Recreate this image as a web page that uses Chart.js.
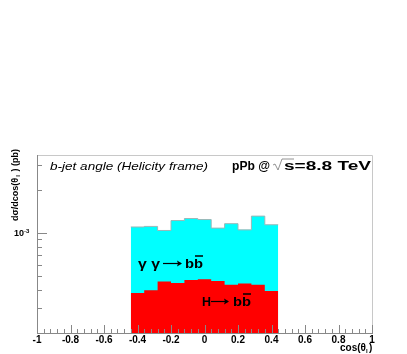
<!DOCTYPE html>
<html>
<head>
<meta charset="utf-8">
<script src="https://cdn.jsdelivr.net/npm/chart.js@4.4.0/dist/chart.umd.min.js"></script>
<style>
  html, body { margin: 0; padding: 0; background: #fff; }
  #wrap { width: 407px; height: 354px; }
</style>
</head>
<body>
<div id="wrap"><canvas id="chart" width="407" height="354"></canvas></div>
<script>
// lower bin edges of cos(theta_l), bin width 0.08
const binLow = [-0.44, -0.36, -0.28, -0.2, -0.12, -0.04, 0.04, 0.12, 0.2, 0.28, 0.36];
const binHigh = 0.44;

// gamma gamma -> bb (drawn as total, cyan) and H -> bb (red), in pb
const totalValues = [1.10e-3, 1.11e-3, 1.04e-3, 1.22e-3, 1.26e-3, 1.24e-3, 1.08e-3, 1.16e-3, 1.05e-3, 1.31e-3, 1.14e-3];
const higgsValues = [3.80e-4, 3.97e-4, 4.57e-4, 4.47e-4, 4.69e-4, 4.74e-4, 4.62e-4, 4.35e-4, 4.44e-4, 4.35e-4, 3.93e-4];

const xTickLabels = [-1, -0.8, -0.6, -0.4, -0.2, 0, 0.2, 0.4, 0.6, 0.8, 1];
const yMinorTicks = [2e-4, 3e-4, 4e-4, 5e-4, 6e-4, 7e-4, 8e-4, 9e-4, 2e-3, 3e-3];
const yMajorTicks = [1e-3];

const FONT = '"Liberation Sans", Arial, sans-serif';

/**
 * Turns bin contents into step points (first value repeated at the lower edge).
 */
const toSteps = (values) => {
    const points = [{ x: binLow[0], y: values[0] }];
    binLow.forEach((x, i) => {
        points.push({ x: i + 1 < binLow.length ? binLow[i + 1] : binHigh, y: values[i] });
    });
    return points;
};

/**
 * Draws text stretched horizontally to a given width (ROOT fonts are wide).
 */
const fitText = (ctx, text, x, y, width) => {
    const w = ctx.measureText(text).width;
    ctx.save();
    ctx.translate(x, y);
    ctx.scale(width / w, 1);
    ctx.fillText(text, 0, 0);
    ctx.restore();
};

const drawArrow = (ctx, x0, x1, y) => {
    ctx.beginPath();
    ctx.moveTo(x0, y);
    ctx.lineTo(x1 - 1, y);
    ctx.stroke();
    ctx.beginPath();
    ctx.moveTo(x1, y);
    ctx.lineTo(x1 - 5, y - 3);
    ctx.lineTo(x1 - 4, y);
    ctx.lineTo(x1 - 5, y + 3);
    ctx.closePath();
    ctx.fill();
};

// frame, inward ticks, labels and texts in ROOT style
const rootDecor = {
    id: 'rootDecor',
    afterDraw(chart) {
        const { ctx, chartArea: a, scales } = chart;
        const xs = scales.x;
        const ys = scales.y;
        ctx.save();

        // frame
        ctx.strokeStyle = '#c8c8c8';
        ctx.lineWidth = 1;
        ctx.beginPath();
        ctx.moveTo(a.left, a.top + 0.5);
        ctx.lineTo(a.right + 0.5, a.top + 0.5);
        ctx.lineTo(a.right + 0.5, a.bottom);
        ctx.stroke();

        ctx.strokeStyle = '#888';
        ctx.beginPath();
        ctx.moveTo(a.left + 0.5, a.top);
        ctx.lineTo(a.left + 0.5, a.bottom + 0.5);
        ctx.lineTo(a.right + 1, a.bottom + 0.5);
        ctx.stroke();

        // x ticks: major every 0.2, minor every 0.04
        ctx.beginPath();
        for (let k = 0; k <= 50; k++) {
            const v = -1 + k * 0.04;
            const px = Math.round(xs.getPixelForValue(v)) + 0.5;
            const len = k % 5 === 0 ? 8 : 4;
            ctx.moveTo(px, a.bottom);
            ctx.lineTo(px, a.bottom - len);
        }
        // y ticks
        for (const v of yMinorTicks) {
            const py = Math.round(ys.getPixelForValue(v)) + 0.5;
            ctx.moveTo(a.left, py);
            ctx.lineTo(a.left + 5, py);
        }
        for (const v of yMajorTicks) {
            const py = Math.round(ys.getPixelForValue(v)) + 0.5;
            ctx.moveTo(a.left, py);
            ctx.lineTo(a.left + 10, py);
        }
        ctx.stroke();

        ctx.fillStyle = '#000';
        ctx.strokeStyle = '#000';

        // x tick labels
        ctx.font = 'bold 10px ' + FONT;
        ctx.textAlign = 'center';
        ctx.textBaseline = 'top';
        for (const v of xTickLabels) {
            ctx.fillText(String(v), xs.getPixelForValue(v), a.bottom + 2);
        }

        // y label 10^-3
        const p3 = ys.getPixelForValue(1e-3);
        ctx.textAlign = 'right';
        ctx.textBaseline = 'middle';
        ctx.font = 'bold 9px ' + FONT;
        ctx.fillText('10', 24, p3 + 1);
        ctx.textAlign = 'left';
        ctx.font = 'bold 6px ' + FONT;
        ctx.fillText('-3', 24, p3 - 2);

        // x title
        ctx.textBaseline = 'alphabetic';
        ctx.textAlign = 'left';
        ctx.font = 'bold 10px ' + FONT;
        ctx.fillText('cos(θ', 340, 351);
        ctx.font = 'bold 6px ' + FONT;
        ctx.fillText('l', 366, 353);
        ctx.font = 'bold 10px ' + FONT;
        ctx.fillText(')', 369, 351);

        // y title (rotated)
        ctx.save();
        ctx.translate(18, 149);
        ctx.rotate(-Math.PI / 2);
        ctx.textAlign = 'right';
        ctx.font = 'bold 9px ' + FONT;
        ctx.fillText('dσ/dcos(θ', -29, 0);
        ctx.font = 'bold 6px ' + FONT;
        ctx.fillText('l', -26, 2);
        ctx.font = 'bold 9px ' + FONT;
        ctx.fillText(') (pb)', 0, 0);
        ctx.restore();

        // header texts
        ctx.textAlign = 'left';
        ctx.font = 'italic 11px ' + FONT;
        fitText(ctx, 'b-jet angle (Helicity frame)', 50, 170, 158);

        ctx.font = 'bold 12px ' + FONT;
        fitText(ctx, 'pPb @', 232, 170, 38);
        fitText(ctx, 's=8.8 TeV', 284, 170, 87);
        // square root sign
        ctx.strokeStyle = '#777';
        ctx.lineWidth = 0.8;
        ctx.beginPath();
        ctx.moveTo(273, 165);
        ctx.lineTo(275, 164);
        ctx.lineTo(278, 170);
        ctx.lineTo(282, 159);
        ctx.lineTo(294, 159);
        ctx.stroke();

        // process labels
        ctx.strokeStyle = '#000';
        ctx.lineWidth = 1.2;
        ctx.font = 'bold 13px ' + FONT;
        fitText(ctx, 'γ γ', 138, 268, 22);
        drawArrow(ctx, 163, 182, 263.5);
        fitText(ctx, 'bb', 185, 268, 18);
        fitText(ctx, 'H', 202, 306, 9);
        drawArrow(ctx, 211, 229, 301.5);
        fitText(ctx, 'bb', 233, 306, 18);
        ctx.lineWidth = 1.3;
        ctx.beginPath();
        ctx.moveTo(195, 256);
        ctx.lineTo(203, 256);
        ctx.moveTo(243, 294);
        ctx.lineTo(251, 294);
        ctx.stroke();

        ctx.restore();
    }
};

new Chart(document.getElementById('chart'), {
    type: 'line',
    data: {
        datasets: [{
            label: 'H -> bb',
            data: toSteps(higgsValues),
            stepped: 'after',
            fill: 'start',
            backgroundColor: '#ff0000',
            borderColor: '#ff0000',
            borderWidth: 0,
            pointRadius: 0,
            order: 0
        }, {
            label: 'gamma gamma -> bb',
            data: toSteps(totalValues),
            stepped: 'after',
            fill: 'start',
            backgroundColor: '#00ffff',
            borderColor: '#9ab8b8',
            borderWidth: 1,
            pointRadius: 0,
            order: 1
        }]
    },
    options: {
        responsive: false,
        animation: false,
        layout: { padding: { left: 37, right: 35, top: 155, bottom: 21 } },
        plugins: { legend: { display: false }, tooltip: { enabled: false } },
        scales: {
            x: { type: 'linear', min: -1, max: 1, display: false },
            y: { type: 'logarithmic', min: 2e-4, max: 3.5e-3, display: false }
        }
    },
    plugins: [rootDecor]
});
</script>
</body>
</html>
